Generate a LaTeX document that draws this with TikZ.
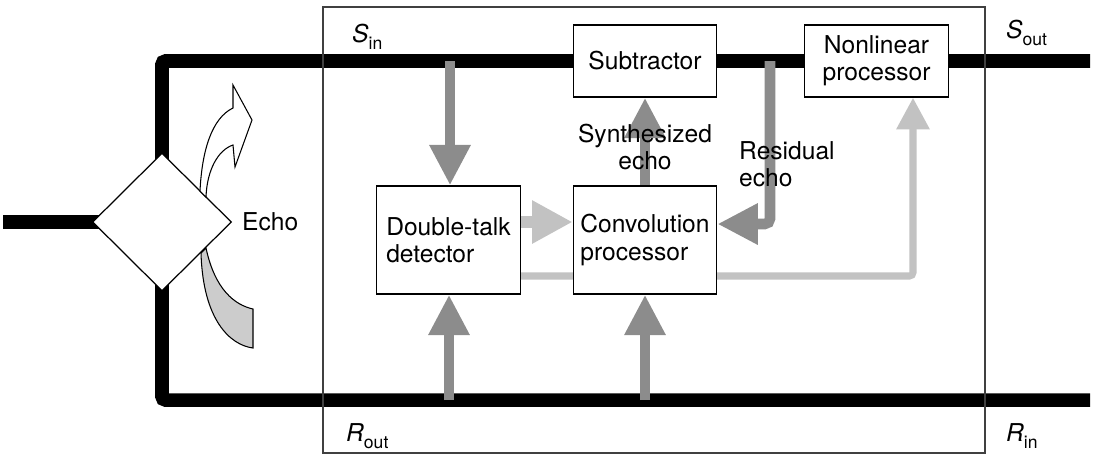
\documentclass[tikz,border=0pt]{standalone}
\usepackage{fontspec}
\setmainfont{TeX Gyre Heros}
\usetikzlibrary{shapes.geometric,arrows.meta,backgrounds}
\definecolor{midgray}{gray}{0.55}
\definecolor{palegray}{gray}{0.76}
\definecolor{echofill}{gray}{0.8}
\newcommand{\sigl}[2]{{\itshape #1}\raisebox{-0.5ex}{\fontsize{10}{10}\selectfont #2}}
\begin{document}
\begin{tikzpicture}[x=0.02cm,y=-0.02cm,
  txt/.style={font=\fontsize{14}{15.5}\selectfont},
  blk/.style={txt,draw,line width=0.75pt,fill=white,minimum width=2.87cm,inner sep=0pt},
  trunk/.style={line width=7.7pt,rounded corners=2pt},
  gar/.style={draw=midgray,line width=6pt,-{Triangle[width=22pt,length=23pt]}},
  lgar/.style={draw=palegray,line width=6.5pt,-{Triangle[width=23pt,length=23pt]}},
  lthin/.style={draw=palegray,line width=4pt,-{Triangle[width=18pt,length=18pt]}}]
\useasboundingbox (0,0) rectangle (1095,458);
\draw[line width=0.7pt,black!75] (323,7) rectangle (985,453);
% boxes
\node[blk,minimum height=1.44cm] (sub) at (645,61) {Subtractor};
\node[blk,minimum height=1.44cm,align=center] (nlp) at (876.5,61) {Nonlinear\\processor};
\node[blk,minimum height=2.16cm,align=left] (dtd) at (448.5,240) {Double-talk\\detector};
\node[blk,minimum height=2.16cm,align=left] (conv) at (645,240) {Convolution\\processor};
\node[draw,diamond,fill=white,line width=0.7pt,minimum width=2.78cm,minimum height=2.76cm,inner sep=0pt] (hyb) at (162,222) {};
% end points on the lines
\coordinate (lin) at (3,222);
\coordinate (sout) at (1090,61);
\coordinate (rin) at (1090,400);
\coordinate (tapd) at (450,61);
\coordinate (tapr) at (770,61);
\coordinate (rd) at (449,400);
\coordinate (rc) at (645,400);
\begin{pgfonlayer}{background}
\draw[trunk] (lin) -- (hyb.center);
\draw[trunk] (hyb.center) |- (sout);
\draw[trunk] (hyb.center) |- (rin);
\draw[gar] (tapd) -- (tapd |- dtd.north);
\draw[gar] (rd) -- (rd |- dtd.south);
\draw[gar] (rc) -- (conv.south);
\draw[gar] (conv.north) -- (sub.south);
\draw[gar,rounded corners=3pt] (tapr) |- ([yshift=0.32cm]conv.east);
\draw[lgar] ([yshift=0.36cm]dtd.east) -- ([yshift=0.36cm]conv.west);
\draw[lthin,rounded corners=2pt] ([yshift=-0.72cm]dtd.east) -| ([xshift=0.73cm]nlp.south);
\end{pgfonlayer}
% echo arrows
\draw[line width=0.6pt,fill=white] (200,191) .. controls (202,150) and (212,118) .. (233,108) -- (233,85) -- (252,120) -- (235,167) -- (233,145) .. controls (218,150) and (207,170) .. (206,197) -- cycle;
\draw[line width=0.6pt,fill=echofill] (201,253) .. controls (203,320) and (230,345) .. (253,348) -- (253,309) .. controls (235,305) and (215,290) .. (206,248) -- cycle;
% labels
\node[txt,align=center] (synth) at (645,147) {Synthesized\\echo};
\node[txt,align=left,anchor=west] (resid) at (733,164) {Residual\\echo};
\node[txt,anchor=west] (echo) at (236,222) {Echo};
\node[txt,anchor=west] (sin) at (346,37) {\sigl{S}{in}};
\node[txt,anchor=west] (soutl) at (1000,33) {\sigl{S}{out}};
\node[txt,anchor=west] (rout) at (340,436) {\sigl{R}{out}};
\node[txt,anchor=west] (rinl) at (1000,436) {\sigl{R}{in}};
\end{tikzpicture}
\end{document}
